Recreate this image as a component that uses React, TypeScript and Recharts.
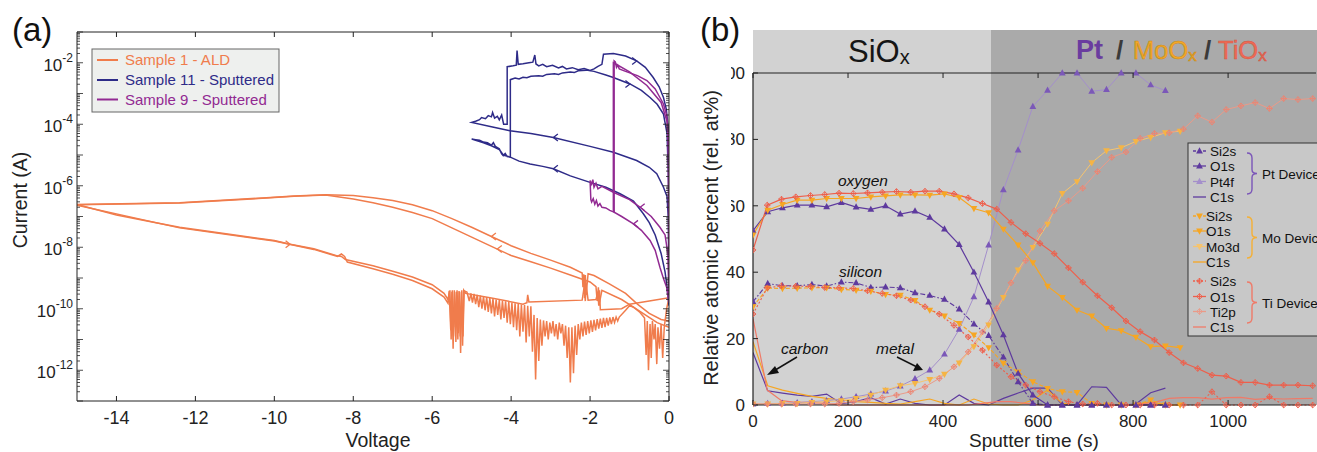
import React from "react";
import { LineChart, Line, XAxis, YAxis } from "recharts";

const FONT = '"Liberation Sans", Arial, Helvetica, sans-serif';

// ---------- panel (a): I-V sweeps, [voltage, log10(current A), arrow dir]
const ALD_UP_OUTER = [
  [0, -10.4], [-0.2, -10.35], [-0.5, -10.15], [-0.8, -9.85], [-1.1, -9.5], [-1.5, -9.2], [-1.9, -8.92],
  [-2.05, -8.86], [-2.1, -9.55], [-2.12, -8.9], [-2.14, -9.65], [-2.16, -8.88], [-2.18, -9.3], [-2.2, -8.84],
  [-2.5, -8.65], [-3, -8.42], [-3.5, -8.2], [-4, -7.95], [-4.5, -7.65, -1], [-5, -7.35], [-5.5, -7.07],
  [-6, -6.81], [-6.5, -6.62], [-7, -6.48], [-7.5, -6.39], [-8, -6.32], [-8.7, -6.29], [-9.5, -6.33],
  [-10.2, -6.39], [-11, -6.45], [-12.4, -6.55], [-13.5, -6.58], [-15, -6.61],
];
const ALD_UP_INNER = [
  [0, -10.6], [-0.3, -10.45], [-0.6, -10.2], [-0.9, -9.95], [-1.2, -9.7], [-1.7, -9.4], [-1.76, -9.8],
  [-1.79, -9.3], [-1.82, -9.75], [-1.85, -9.28], [-2, -9.13], [-2.5, -8.9], [-3, -8.68], [-3.5, -8.47],
  [-4, -8.27], [-4.35, -8.06, -1], [-5, -7.67], [-5.5, -7.37], [-6, -7.07], [-6.5, -6.87], [-7, -6.7],
  [-7.5, -6.55], [-8, -6.43], [-8.7, -6.3], [-9.5, -6.34], [-10.2, -6.4], [-12.4, -6.56], [-15, -6.62],
];
const ALD_LOW_A = [
  [-15, -6.61], [-14, -6.95], [-13, -7.2], [-12.4, -7.35], [-11, -7.6], [-10, -7.78], [-9.6, -7.9, 1],
  [-9, -8.05], [-8.4, -8.28], [-8.3, -8.3], [-8.2, -8.4], [-7.5, -8.6], [-7, -8.78], [-6.5, -8.97],
  [-6, -9.22], [-5.7, -9.5], [-5.6, -9.7],
  [-5.55, -9.4], [-5.52, -11.0], [-5.49, -9.4], [-5.46, -10.9], [-5.43, -9.45], [-5.4, -11.08], [-5.37, -9.4],
  [-5.34, -10.8], [-5.31, -9.45], [-5.28, -11.44], [-5.25, -9.4], [-5.22, -10.9], [-5.19, -9.42], [-5.12, -9.46],
  [-5.06, -9.75], [-5.02, -9.5], [-4.98, -9.8], [-4.94, -9.52], [-4.9, -9.85], [-4.86, -9.55], [-4.82, -9.95],
  [-4.78, -9.57], [-4.74, -10.0], [-4.7, -9.6], [-4.66, -10.05], [-4.62, -9.62], [-4.58, -10.1], [-4.54, -9.65],
  [-4.5, -10.15], [-4.46, -9.67], [-4.42, -10.25], [-4.38, -9.7], [-4.34, -10.2], [-4.3, -9.72], [-4.26, -10.35],
  [-4.22, -9.74], [-4.18, -10.3], [-4.14, -9.76], [-4.1, -10.45], [-4.06, -9.78], [-4.02, -10.5], [-3.98, -9.8],
  [-3.94, -10.6], [-3.9, -9.82], [-3.86, -10.7], [-3.82, -9.84], [-3.78, -10.9], [-3.74, -9.86], [-3.7, -10.75],
  [-3.66, -9.88], [-3.62, -11.1], [-3.58, -9.9], [-3.54, -10.9], [-3.5, -9.92],
  [-3.46, -11.4], [-3.42, -10.2], [-3.38, -12.3], [-3.34, -10.3], [-3.3, -11.7], [-3.26, -10.35], [-3.22, -11.2],
  [-3.18, -10.38], [-3.14, -10.9], [-3.1, -10.4], [-3.06, -11.0], [-3.02, -10.45], [-2.98, -10.8], [-2.94, -10.4],
  [-2.9, -10.9], [-2.86, -10.5], [-2.82, -11.0], [-2.78, -10.45], [-2.74, -10.8], [-2.7, -10.5],
  [-2.66, -11.2], [-2.62, -10.55], [-2.58, -11.6], [-2.54, -10.6], [-2.5, -12.4], [-2.46, -10.6], [-2.42, -12.1],
  [-2.38, -10.55], [-2.34, -11.5], [-2.3, -10.5], [-2.26, -11.0], [-2.22, -10.45], [-2.18, -10.9], [-2.14, -10.42],
  [-2.1, -10.85], [-2.06, -10.4], [-2.02, -10.8], [-1.98, -10.38], [-1.94, -10.75], [-1.9, -10.36], [-1.86, -10.7],
  [-1.82, -10.34], [-1.78, -10.65], [-1.74, -10.32], [-1.7, -10.62], [-1.66, -10.3], [-1.62, -10.6], [-1.58, -10.3],
  [-1.54, -10.55], [-1.5, -10.28], [-1.46, -10.5], [-1.42, -10.27], [-1.38, -10.45], [-1.34, -10.27], [-1.3, -10.4],
  [-1.26, -10.27], [-1.1, -10.05], [-1.0, -9.9], [-0.9, -9.95], [-0.75, -10.1], [-0.65, -10.25],
  [-0.62, -10.3], [-0.58, -11.5], [-0.55, -10.4], [-0.52, -12.0], [-0.48, -10.5], [-0.45, -11.6], [-0.42, -10.4],
  [-0.38, -11.0], [-0.35, -10.5], [-0.31, -11.8], [-0.28, -10.6], [-0.24, -11.3], [-0.2, -10.5], [-0.16, -11.6],
  [-0.12, -10.6], [-0.06, -10.0], [0, -9.64],
];
const ALD_LOW_B = [
  [-15, -6.63], [-12.4, -7.37], [-10, -7.8], [-9, -8.07], [-8.4, -8.3], [-8.3, -8.22], [-8.22, -8.3],
  [-8.15, -8.48], [-7.5, -8.7], [-7, -8.88], [-6.5, -9.08], [-6, -9.35], [-5.7, -9.62], [-5.6, -9.82],
  [-5.57, -9.42], [-5.53, -10.7], [-5.5, -9.45], [-5.47, -11.3], [-5.44, -9.4], [-5.41, -10.6], [-5.38, -9.45],
  [-5.35, -11.0], [-5.32, -9.42], [-5.29, -10.9], [-5.26, -9.45], [-5.23, -11.2], [-5.2, -9.4], [-5.15, -9.5],
  [-4.5, -9.65], [-3.7, -9.85], [-3.6, -9.8], [-3.58, -9.55], [-3.55, -9.78], [-2.2, -9.72], [-2.15, -9.3],
  [-2.12, -9.75], [-2.1, -9.2], [-2.05, -9.72], [-1.85, -9.7], [-1.8, -9.45], [-1.78, -9.9], [-1.76, -9.4],
  [-1.74, -10.03], [-1.2, -10.0], [-1.0, -9.85], [-0.5, -9.75], [0, -9.64],
];
const SPUT11_A = [
  [0, -9.8], [-0.01, -8.0], [-0.02, -7.0], [-0.05, -6.35], [-0.14, -6.05], [-0.31, -5.61], [-0.5, -5.4],
  [-0.82, -5.18], [-1.41, -4.91], [-2.0, -4.72], [-2.93, -4.43, -1], [-3.5, -4.3], [-4.03, -4.21], [-4.5, -4.08],
  [-5.0, -3.94], [-4.9, -3.9], [-4.8, -3.85], [-4.75, -3.78], [-4.65, -3.82], [-4.58, -3.72], [-4.5, -3.76],
  [-4.47, -3.62], [-4.42, -3.8], [-4.35, -3.74], [-4.3, -3.86], [-4.24, -3.7], [-4.19, -4.0], [-4.1, -4.0],
  [-4.1, -2.13], [-3.95, -2.1], [-3.87, -2.08], [-3.85, -1.6], [-3.82, -2.05], [-3.7, -2.03], [-3.55, -2.0],
  [-3.45, -1.98], [-3.4, -1.75], [-3.37, -2.04], [-3.3, -2.1], [-3.2, -2.05], [-3.1, -2.13], [-2.95, -2.08],
  [-2.8, -2.17], [-2.7, -2.12], [-2.6, -2.2], [-2.45, -2.16], [-2.3, -2.23], [-2.15, -2.19], [-2.0, -2.25],
  [-1.9, -2.2], [-1.8, -2.12], [-1.7, -2.05], [-1.66, -1.72], [-1.41, -1.7], [-1.1, -1.78], [-0.82, -1.94, 1],
  [-0.6, -2.15], [-0.4, -2.48], [-0.25, -2.78], [-0.14, -3.13], [-0.07, -3.5], [-0.02, -4.1], [0, -5.5], [0, -9.7],
];
const SPUT11_B = [
  [0, -9.9], [-0.05, -9.3], [-0.1, -8.8], [-0.2, -8.2], [-0.35, -7.6], [-0.5, -7.2], [-0.65, -6.91], [-0.9, -6.5],
  [-1.24, -6.26], [-1.6, -6.05], [-2.0, -5.89], [-2.5, -5.68], [-2.93, -5.45, -1], [-3.2, -5.37], [-3.52, -5.29],
  [-3.8, -5.2], [-4.02, -5.07], [-4.1, -5.05], [-4.15, -4.95], [-4.2, -5.02], [-4.24, -4.96], [-4.3, -4.8],
  [-4.4, -4.72], [-4.45, -4.6], [-4.5, -4.68], [-4.6, -4.6], [-4.7, -4.58], [-4.8, -4.52], [-4.9, -4.5],
  [-5.0, -4.48], [-4.9, -4.52], [-4.7, -4.6], [-4.5, -4.7], [-4.3, -4.82], [-4.2, -5.0], [-4.02, -5.07],
  [-4.02, -2.55], [-3.9, -2.5], [-3.8, -2.53], [-3.7, -2.47], [-3.6, -2.49], [-3.5, -2.44], [-3.3, -2.42],
  [-3.2, -2.44], [-3.1, -2.38], [-2.9, -2.36], [-2.8, -2.38], [-2.7, -2.33], [-2.5, -2.3], [-2.4, -2.32],
  [-2.3, -2.26], [-2.1, -2.24], [-1.9, -2.28], [-1.6, -2.4], [-1.41, -2.48], [-0.99, -2.69, 1], [-0.7, -2.9],
  [-0.48, -3.13], [-0.3, -3.35], [-0.14, -3.67], [-0.05, -4.3], [-0.02, -5.5], [0, -7], [0, -9.8],
];
const SPUT9_A = [
  [0, -9.6], [-0.03, -8.2], [-0.1, -7.6], [-0.23, -7.35], [-0.45, -7.0], [-0.73, -6.7, -1], [-1.0, -6.45],
  [-1.41, -6.21], [-1.7, -6.02], [-1.8, -6.1], [-1.85, -5.92], [-1.9, -6.05], [-1.93, -5.8], [-1.96, -5.95],
  [-2.0, -5.83], [-1.98, -6.45], [-1.96, -6.53], [-1.92, -6.42], [-1.88, -6.6], [-1.84, -6.48], [-1.8, -6.66],
  [-1.75, -6.58], [-1.7, -6.7], [-1.6, -6.72], [-1.5, -6.8], [-1.39, -6.86], [-1.39, -1.94], [-1.36, -1.97],
  [-1.33, -2.15], [-1.3, -2.08], [-1.26, -2.2], [-1.1, -2.28], [-0.8, -2.42], [-0.56, -2.58], [-0.35, -2.85],
  [-0.23, -3.13], [-0.14, -3.34], [-0.06, -3.7], [-0.02, -4.3], [0, -6], [0, -9.6],
];
const SPUT9_B = [
  [0, -9.8], [-0.06, -9.3], [-0.14, -9.02], [-0.23, -8.65], [-0.35, -8.1], [-0.48, -7.78], [-0.7, -7.45],
  [-0.9, -7.24, -1], [-1.2, -7.0], [-1.39, -6.86], [-1.41, -6.8], [-1.41, -2.0], [-1.35, -2.04], [-1.0, -2.3],
  [-0.56, -2.74], [-0.2, -3.29], [-0.05, -3.9], [-0.02, -4.5], [0, -9.8],
];

const V_TICKS = [-14, -12, -10, -8, -6, -4, -2, 0];
const LOG_DECADES = [-13, -12, -11, -10, -9, -8, -7, -6, -5, -4, -3, -2, -1];
const LOG_LABELS = [-12, -10, -8, -6, -4, -2];
const MINOR_STEPS = [2, 3, 4, 5, 6, 7, 8, 9];

// ---------- panel (b): depth profiles (rel. at%)
const PT_TIME = [0, 31, 62, 93, 124, 155, 186, 217, 248, 279, 310, 341, 372, 403, 434, 465, 496, 527, 558, 589,
  620, 651, 682, 713, 744, 775, 806, 837, 868];
const PT_SI2S = [31.1, 36.6, 35.9, 35.9, 36.3, 35.8, 37.0, 36.8, 35.4, 35.5, 35.3, 33.8, 33.0, 31.8, 28.9, 24.4,
  20.9, 14.4, 7.0, 0.5, 0, 0, 0, 0, 0, 0, 0, 0, 0];
const PT_O1S = [52.5, 58.2, 59.4, 60.2, 60.2, 59.7, 61.0, 59.6, 58.9, 60.0, 57.5, 58.4, 56.5, 53.0, 48.3, 40.0,
  31.0, 21.1, 9.5, 3.0, 0, 0, 0, 0, 0, 0, 0, 0, 0];
const PT_PT4F = [0.3, 0.4, 0.5, 0.7, 1.0, 1.3, 1.8, 2.5, 3.3, 4.2, 5.7, 7.9, 10.5, 15.3, 22.8, 32.6, 48.2, 64.8,
  76.8, 89.9, 94.8, 100, 100, 94.5, 95.0, 100, 100, 96.4, 94.7];
const PT_C1S = [15.8, 4.3, 3.6, 3.0, 2.6, 3.3, 0.4, 1.0, 2.2, 0.3, 1.8, 0.5, 0, 0, 3.0, 0.5, 0, 2.0, 3.6, 5.1, 5.1,
  0, 0, 5.5, 5.3, 0, 0.3, 3.7, 5.1];

const MO_TIME = [0, 31, 62, 93, 124, 155, 186, 217, 248, 279, 310, 341, 372, 403, 434, 465, 496, 527, 558, 589,
  620, 651, 682, 713, 744, 775, 806, 837, 868, 899];
const MO_SI2S = [29.6, 35.2, 35.1, 35.2, 35.3, 35.3, 34.8, 34.6, 34.3, 33.3, 33.1, 31.5, 28.6, 26.8, 24.6, 21.1,
  17.3, 12.6, 10.0, 7.0, 5.0, 4.0, 3.8, 0.5, 0, 0, 0, 1.5, 0, 0];
const MO_O1S = [51.2, 58.7, 60.4, 61.7, 61.7, 62.2, 62.2, 62.2, 62.7, 63.0, 63.3, 63.3, 63.2, 63.6, 62.5, 59.2,
  57.9, 53.0, 48.2, 42.9, 35.8, 32.4, 28.6, 26.8, 23.1, 22.4, 20.4, 17.6, 17.8, 17.3];
const MO_MO3D = [0.3, 0.3, 0.5, 0.5, 0.8, 1.0, 1.3, 2.0, 3.0, 4.5, 5.8, 6.5, 7.7, 9.3, 12.7, 17.6, 24.1, 32.4,
  40.7, 47.5, 54.5, 63.7, 67.3, 73.0, 76.6, 77.5, 79.4, 80.6, 82.0, 82.5];
const MO_C1S = [19.1, 5.8, 4.5, 3.5, 2.6, 2.0, 1.5, 1.0, 0.8, 0.5, 0.3, 1.0, 1.8, 0.5, 0, 1.8, 0.3, 0, 0, 1.5, 4.5,
  0.5, 0, 0, 0, 0, 0, 1.0, 0, 0];

const TI_TIME = [0, 30, 60, 90, 121, 151, 181, 211, 241, 272, 302, 332, 362, 392, 423, 453, 483, 513, 543, 574,
  604, 634, 664, 694, 725, 755, 785, 815, 845, 876, 906, 936, 966, 996, 1027, 1057, 1087, 1117, 1147, 1178];
const TI_SI2S = [27.4, 35.3, 35.9, 35.8, 35.7, 35.4, 35.3, 35.1, 34.4, 33.6, 32.9, 31.6, 29.6, 27.4, 24.0, 20.5,
  16.5, 12.0, 8.5, 6.0, 4.0, 2.5, 1.0, 0.3, 0.5, 0, 0, 0, 0, 0, 0, 0, 4.0, 0, 0, 0, 2.5, 0, 0, 0];
const TI_O1S = [46.7, 60.2, 62.0, 62.7, 63.1, 63.4, 63.8, 63.7, 63.9, 64.1, 64.3, 64.1, 64.4, 64.4, 63.6, 62.4,
  60.7, 59.0, 55.0, 51.6, 48.7, 45.6, 41.3, 37.0, 32.9, 29.3, 25.3, 22.1, 19.6, 15.8, 12.7, 11.0, 9.0, 8.7, 6.8,
  6.8, 6.0, 6.0, 6.0, 5.8];
const TI_TI2P = [0.3, 0.3, 0.3, 0.3, 0.3, 0.3, 0.5, 1.0, 1.5, 2.2, 3.0, 4.0, 5.5, 8.0, 11.5, 16.0, 22.0, 29.1, 36.8,
  43.5, 52.4, 58.5, 61.5, 65.3, 70.3, 74.6, 76.2, 80.3, 81.8, 82.0, 83.1, 87.1, 85.2, 89.0, 90.1, 91.1, 89.3, 92.3,
  92.0, 92.3];
const TI_C1S = [26.0, 4.5, 1.3, 0.8, 0.8, 0.5, 0, 0, 0, 0, 0, 0, 0, 0, 0, 0, 0.5, 1.0, 1.0, 0.5, 0, 0, 0, 0, 0, 0, 0,
  0.3, 0.8, 2.0, 2.2, 2.2, 1.8, 2.2, 2.3, 1.7, 2.0, 1.8, 1.9, 2.0];

const T_TICKS = [0, 200, 400, 600, 800, 1000];
const P_TICKS = [0, 20, 40, 60, 80, 100];

// colours
const ORANGE = "#f07c4c";
const NAVY = "#2e2b88";
const PURPLE = "#922a92";
const PT = "#5e3a9e";
const PT_LIGHT = "#a48fcb";
const MO = "#f6a623";
const MO_LIGHT = "#f6c46e";
const TI = "#ee5f4b";
const TI_LIGHT = "#eb9a88";

const toRows = (pts: number[][]) => pts.map((p) => ({ v: p[0], i: Math.pow(10, p[1]), a: p[2] || 0 }));

const logTicks: number[] = [];
LOG_DECADES.forEach((e) => {
  logTicks.push(Math.pow(10, e));
  if (e < -1) MINOR_STEPS.forEach((m) => logTicks.push(m * Math.pow(10, e)));
});

const arrowDot = (color: string) => (p: any) => {
  const { cx, cy, index, payload } = p;
  if (!payload || !payload.a || cx == null || cy == null) return <g key={`n${index}`} />;
  const d = payload.a;
  return (
    <path key={`a${index}`} d={`M${cx - 4.5 * d} ${cy - 3.5}L${cx} ${cy}L${cx - 4.5 * d} ${cy + 3.5}`}
      fill="none" stroke={color} strokeWidth={1.3} />
  );
};

const LogTick = (side: "l" | "r") => (p: any) => {
  const { x, y, payload } = p;
  const e = Math.log10(payload.value);
  const re = Math.round(e);
  const dec = Math.abs(e - re) < 1e-6;
  const len = dec ? 6 : 3;
  const dir = side === "l" ? 1 : -1;
  return (
    <g>
      <line x1={x} x2={x + dir * len} y1={y} y2={y} stroke="#222" strokeWidth={0.8} />
      {side === "l" && dec && LOG_LABELS.includes(re) && (
        <text x={x - 4} y={y + 8} textAnchor="end" fontSize={17} fill="#222" fontFamily={FONT}>
          10<tspan fontSize={12} dy={-9}>{re}</tspan>
        </text>
      )}
    </g>
  );
};

const VTick = (side: "b" | "t", labelled: boolean, fs: number, len: number) => (p: any) => {
  const { x, y, payload } = p;
  const dir = side === "b" ? -1 : 1;
  return (
    <g>
      <line x1={x} x2={x} y1={y} y2={y + dir * len} stroke="#222" strokeWidth={1} />
      {labelled && (
        <text x={x} y={y + fs + 5} textAnchor="middle" fontSize={fs} fill="#222" fontFamily={FONT}>
          {payload.value}
        </text>
      )}
    </g>
  );
};

const PTick = (p: any) => {
  const { x, y, payload } = p;
  return (
    <g>
      <line x1={x} x2={x + 5} y1={y} y2={y} stroke="#222" strokeWidth={1} />
      <text x={x - 8} y={y + 6} textAnchor="end" fontSize={17} fill="#222" fontFamily={FONT}>
        {payload.value}
      </text>
    </g>
  );
};

function marker(shape: string, color: string, cx: number, cy: number, key: string) {
  if (shape === "up")
    return <polygon key={key} points={`${cx},${cy - 3.8} ${cx - 3.4},${cy + 2.4} ${cx + 3.4},${cy + 2.4}`} fill={color} />;
  if (shape === "down")
    return <polygon key={key} points={`${cx},${cy + 3.8} ${cx - 3.4},${cy - 2.4} ${cx + 3.4},${cy - 2.4}`} fill={color} />;
  if (shape === "dia")
    return (
      <g key={key}>
        <path d={`M${cx} ${cy - 2.9}L${cx + 2.9} ${cy}L${cx} ${cy + 2.9}L${cx - 2.9} ${cy}Z`} fill="none" stroke={color} strokeWidth={0.9} />
        <path d={`M${cx - 2.9} ${cy}H${cx + 2.9}M${cx} ${cy - 2.9}V${cy + 2.9}`} stroke={color} strokeWidth={0.9} />
      </g>
    );
  return <g key={key} />;
}

const markDot = (shape: string, color: string) => (p: any) => {
  if (p.cx == null || p.cy == null) return <g key={`e${p.index}`} />;
  return marker(shape, color, p.cx, p.cy, `m${p.index}`);
};

const ptRows = PT_TIME.map((t, k) => ({ t, si: PT_SI2S[k], o: PT_O1S[k], m: PT_PT4F[k], c: PT_C1S[k] }));
const moRows = MO_TIME.map((t, k) => ({ t, si: MO_SI2S[k], o: MO_O1S[k], m: MO_MO3D[k], c: MO_C1S[k] }));
const tiRows = TI_TIME.map((t, k) => ({ t, si: TI_SI2S[k], o: TI_O1S[k], m: TI_TI2P[k], c: TI_C1S[k] }));

const B_SERIES = [
  { id: "ptC", data: ptRows, k: "c", color: PT, w: 1.2, dash: undefined, shape: "" },
  { id: "moC", data: moRows, k: "c", color: MO, w: 1.2, dash: undefined, shape: "" },
  { id: "tiC", data: tiRows, k: "c", color: "#f07a68", w: 1.2, dash: undefined, shape: "" },
  { id: "ptM", data: ptRows, k: "m", color: PT_LIGHT, w: 1, dash: undefined, shape: "up", mc: "#7b58b8" },
  { id: "moM", data: moRows, k: "m", color: MO_LIGHT, w: 1, dash: undefined, shape: "down", mc: "#f5b445" },
  { id: "tiM", data: tiRows, k: "m", color: TI_LIGHT, w: 1, dash: undefined, shape: "dia", mc: "#ec8472" },
  { id: "ptS", data: ptRows, k: "si", color: PT, w: 1.1, dash: "5 2 1.5 2", shape: "up" },
  { id: "moS", data: moRows, k: "si", color: MO, w: 1.1, dash: "4 2", shape: "down" },
  { id: "tiS", data: tiRows, k: "si", color: TI, w: 1.1, dash: "2 2", shape: "dia" },
  { id: "ptO", data: ptRows, k: "o", color: PT, w: 1.2, dash: undefined, shape: "up" },
  { id: "moO", data: moRows, k: "o", color: MO, w: 1.2, dash: undefined, shape: "down" },
  { id: "tiO", data: tiRows, k: "o", color: TI, w: 1.2, dash: undefined, shape: "dia" },
];

const LEG_B = [
  { y: 151, label: "Si2s", color: PT, dash: "3 2", shape: "up", tx: 1210 },
  { y: 166, label: "O1s", color: PT, dash: undefined, shape: "up", tx: 1210 },
  { y: 181.5, label: "Pt4f", color: PT_LIGHT, dash: undefined, shape: "up", tx: 1210 },
  { y: 197, label: "C1s", color: PT, dash: undefined, shape: "", tx: 1210 },
  { y: 216, label: "Si2s", color: MO, dash: "3 2", shape: "down", tx: 1206 },
  { y: 231, label: "O1s", color: MO, dash: undefined, shape: "down", tx: 1206 },
  { y: 246.5, label: "Mo3d", color: MO_LIGHT, dash: undefined, shape: "down", tx: 1206 },
  { y: 262, label: "C1s", color: MO, dash: undefined, shape: "", tx: 1206 },
  { y: 281, label: "Si2s", color: TI, dash: "2 2", shape: "dia", tx: 1210 },
  { y: 296.5, label: "O1s", color: TI, dash: undefined, shape: "dia", tx: 1210 },
  { y: 311.5, label: "Ti2p", color: TI_LIGHT, dash: undefined, shape: "dia", tx: 1210 },
  { y: 327, label: "C1s", color: "#f07a68", dash: undefined, shape: "", tx: 1210 },
];

const BRACES = [
  { y1: 153, y2: 194, color: "#7a55b8", text: "Pt Device" },
  { y1: 217, y2: 258, color: "#f5b035", text: "Mo Device" },
  { y1: 282, y2: 323, color: "#ef7a68", text: "Ti Device" },
];

const bracePath = (x: number, y1: number, y2: number) => {
  const m = (y1 + y2) / 2;
  return `M${x} ${y1} Q${x + 5} ${y1} ${x + 5} ${y1 + 5} L${x + 5} ${m - 4} Q${x + 5} ${m} ${x + 10} ${m} Q${x + 5} ${m} ${x + 5} ${m + 4} L${x + 5} ${y2 - 5} Q${x + 5} ${y2} ${x} ${y2}`;
};

function PanelA() {
  const series = [
    { id: "o1", d: ALD_UP_OUTER, c: ORANGE },
    { id: "o2", d: ALD_UP_INNER, c: ORANGE },
    { id: "o3", d: ALD_LOW_A, c: ORANGE },
    { id: "o4", d: ALD_LOW_B, c: ORANGE },
    { id: "n1", d: SPUT11_A, c: NAVY },
    { id: "n2", d: SPUT11_B, c: NAVY },
    { id: "p1", d: SPUT9_A, c: PURPLE },
    { id: "p2", d: SPUT9_B, c: PURPLE },
  ];
  return (
    <div style={{ position: "absolute", left: 0, top: 0 }}>
      <LineChart width={680} height={452} margin={{ top: 0, right: 0, bottom: 0, left: 0 }}>
        <XAxis xAxisId="b" type="number" dataKey="v" orientation="bottom" domain={[-15, 0]} allowDataOverflow
          ticks={V_TICKS} interval={0} height={51} tickSize={0} tickMargin={0} tickLine={false}
          tick={VTick("b", true, 18, 5)} axisLine={{ stroke: "#222", strokeWidth: 1 }} />
        <XAxis xAxisId="t" type="number" dataKey="v" orientation="top" domain={[-15, 0]} allowDataOverflow
          ticks={V_TICKS} interval={0} height={32} tickSize={0} tickMargin={0} tickLine={false}
          tick={VTick("t", false, 18, 5)} axisLine={{ stroke: "#222", strokeWidth: 1 }} />
        <YAxis yAxisId="l" type="number" scale="log" domain={[1e-13, 1e-1]} allowDataOverflow
          ticks={logTicks} interval={0} width={77} tickSize={0} tickMargin={0} tickLine={false}
          tick={LogTick("l")} axisLine={{ stroke: "#222", strokeWidth: 1 }} />
        <YAxis yAxisId="r" orientation="right" type="number" scale="log" domain={[1e-13, 1e-1]} allowDataOverflow
          ticks={logTicks} interval={0} width={11} tickSize={0} tickMargin={0} tickLine={false}
          tick={LogTick("r")} axisLine={{ stroke: "#222", strokeWidth: 1 }} />
        {series.map((s) => (
          <Line key={s.id} xAxisId="b" yAxisId="l" data={toRows(s.d)} dataKey="i" type="linear"
            stroke={s.c} strokeWidth={1.5} dot={arrowDot(s.c)} activeDot={false} isAnimationActive={false} />
        ))}
      </LineChart>
    </div>
  );
}

function PanelB() {
  return (
    <div style={{ position: "absolute", left: 680, top: 0 }}>
      <LineChart width={637} height={452} margin={{ top: 0, right: 1, bottom: 0, left: 0 }}>
        <XAxis xAxisId="b" type="number" dataKey="t" orientation="bottom" domain={[0, 1185]} allowDataOverflow
          ticks={T_TICKS} interval={0} height={47} tickSize={0} tickMargin={0} tickLine={false}
          tick={VTick("b", true, 17, 5)} axisLine={{ stroke: "#222", strokeWidth: 1.2 }} />
        <XAxis xAxisId="t" type="number" dataKey="t" orientation="top" domain={[0, 1185]} allowDataOverflow
          ticks={T_TICKS} interval={0} height={73} tickSize={0} tickMargin={0} tickLine={false}
          tick={VTick("t", false, 17, 5)} axisLine={{ stroke: "#222", strokeWidth: 1.2 }} />
        <YAxis yAxisId="l" type="number" domain={[0, 100]} ticks={P_TICKS} interval={0} width={73}
          tickSize={0} tickMargin={0} tickLine={false} tick={PTick}
          axisLine={{ stroke: "#222", strokeWidth: 1.2 }} />
        {B_SERIES.map((s: any) => (
          <Line key={s.id} xAxisId="b" yAxisId="l" data={s.data} dataKey={s.k} type="linear"
            stroke={s.color} strokeWidth={s.w} strokeDasharray={s.dash}
            dot={s.shape ? markDot(s.shape, s.mc || s.color) : false} activeDot={false}
            isAnimationActive={false} />
        ))}
      </LineChart>
    </div>
  );
}

function Overlay() {
  return (
    <svg width={1317} height={452} style={{ position: "absolute", left: 0, top: 0, pointerEvents: "none" }}
      fontFamily={FONT}>
      {/* panel letters */}
      <text x={12} y={41} fontSize={33} fill="#111">(a)</text>
      <text x={700} y={41} fontSize={33} fill="#111">(b)</text>

      {/* panel (a) labels */}
      <text x={378} y={447} fontSize={19.5} textAnchor="middle" fill="#222">Voltage</text>
      <text transform="translate(27,200) rotate(-90)" fontSize={19.5} textAnchor="middle" fill="#222">Current (A)</text>

      {/* panel (a) legend */}
      <rect x={92} y={49} width={187} height={63} fill="#eef0ee" stroke="#666" strokeWidth={1} />
      {[
        { y: 60, c: ORANGE, t: "Sample 1 - ALD" },
        { y: 80, c: NAVY, t: "Sample 11 - Sputtered" },
        { y: 99.5, c: PURPLE, t: "Sample 9 - Sputtered" },
      ].map((r) => (
        <g key={r.t}>
          <line x1={97} x2={118} y1={r.y} y2={r.y} stroke={r.c} strokeWidth={2} />
          <text x={125} y={r.y + 5} fontSize={15} fill={r.c}>{r.t}</text>
        </g>
      ))}

      {/* panel (b) header */}
      <text x={848} y={62} fontSize={31} fill="#151515">SiO<tspan fontSize={20} dy={2}>x</tspan></text>
      <text x={1076} y={59} fontSize={27} fontWeight="bold" fill="#6a3c9f">Pt</text>
      <text x={1116} y={59} fontSize={26} fill="#3a3a3a" fontWeight="bold">/</text>
      <text x={1133} y={59} fontSize={25.5} fill="#f5a82a" stroke="#c98c18" strokeWidth={0.6}>
        MoO<tspan fontSize={17} dy={2}>x</tspan>
      </text>
      <text x={1204} y={59} fontSize={26} fill="#3a3a3a" fontWeight="bold">/</text>
      <text x={1218} y={59} fontSize={25.5} fill="#f06a55" stroke="#cf5644" strokeWidth={0.5}>
        TiO<tspan fontSize={17} dy={2}>x</tspan>
      </text>

      {/* panel (b) axis labels */}
      <rect x={694} y={56} width={37} height={160} fill="#fff" />
      <text transform="translate(718,238) rotate(-90)" fontSize={20} textAnchor="middle" fill="#222">
        Relative atomic percent (rel. at%)
      </text>
      <text x={1034} y={447} fontSize={19} textAnchor="middle" fill="#222">Sputter time (s)</text>

      {/* annotations */}
      <g fontSize={15.5} fontStyle="italic" fill="#111">
        <text x={838} y={186}>oxygen</text>
        <text x={839} y={277}>silicon</text>
        <text x={781} y={354}>carbon</text>
        <text x={876} y={354}>metal</text>
      </g>
      <line x1={797} y1={357} x2={772} y2={372} stroke="#111" strokeWidth={1.5} />
      <polygon points="767,375 775,366 779,373" fill="#111" />
      <line x1={897} y1={357} x2={917} y2={367} stroke="#111" strokeWidth={1.5} />
      <polygon points="923,370 913,371 917,363" fill="#111" />

      {/* panel (b) legend */}
      <rect x={1188} y={143} width={140} height={193} fill="#c8c8c8" stroke="#333" strokeWidth={1} />
      {LEG_B.map((r, k) => (
        <g key={k}>
          <line x1={1193} x2={1206} y1={r.y} y2={r.y} stroke={r.color} strokeWidth={1.3} strokeDasharray={r.dash} />
          {r.shape && marker(r.shape, r.color, 1199.5, r.y, `lm${k}`)}
          <text x={r.tx} y={r.y + 5} fontSize={13.5} fill="#111">{r.label}</text>
        </g>
      ))}
      {BRACES.map((b) => (
        <g key={b.text}>
          <path d={bracePath(1247, b.y1, b.y2)} fill="none" stroke={b.color} strokeWidth={1.4} />
          <text x={1262} y={(b.y1 + b.y2) / 2 + 5} fontSize={13.5} fill="#111">{b.text}</text>
        </g>
      ))}
    </svg>
  );
}

export default function App() {
  return (
    <div style={{ position: "fixed", left: 0, top: 0, width: 1317, height: 452, background: "#fff", overflow: "hidden", fontFamily: FONT }}>
      <div style={{ position: "absolute", left: 753, top: 30, width: 237.5, height: 375, background: "#d2d2d2" }} />
      <div style={{ position: "absolute", left: 990.5, top: 30, width: 327, height: 375, background: "#aaaaaa" }} />
      <PanelA />
      <PanelB />
      <Overlay />
    </div>
  );
}
